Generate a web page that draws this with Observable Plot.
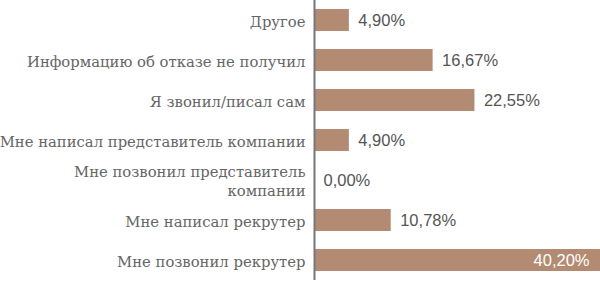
<!DOCTYPE html>
<html>
<head>
<meta charset="utf-8">
<script src="https://cdn.jsdelivr.net/npm/d3@7"></script>
<script src="https://cdn.jsdelivr.net/npm/@observablehq/plot@0.6"></script>
<style>
  html, body { margin: 0; padding: 0; background: #fff; }
  #chart svg { display: block; }
</style>
</head>
<body>
<div id="chart"></div>
<script>
const categories = [
  "Другое",
  "Информацию об отказе не получил",
  "Я звонил/писал сам",
  "Мне написал представитель компании",
  "Мне позвонил представитель компании",
  "Мне написал рекрутер",
  "Мне позвонил рекрутер"
];
const tickLabels = [
  "Другое",
  "Информацию об отказе не получил",
  "Я звонил/писал сам",
  "Мне написал представитель компании",
  "Мне позвонил представитель\nкомпании",
  "Мне написал рекрутер",
  "Мне позвонил рекрутер"
];
const values = [4.90, 16.67, 22.55, 4.90, 0.00, 10.78, 40.20];

const data = categories.map((c, i) => ({category: c, value: values[i], label: tickLabels[i]}));
const fmt = v => v.toFixed(2).replace(".", ",") + "%";
const maxV = d3.max(values);

const chart = Plot.plot({
  width: 600,
  height: 281,
  marginLeft: 314,
  marginRight: 0,
  marginTop: 0,
  marginBottom: 1,
  x: {domain: [0, maxV], axis: null},
  y: {domain: categories, paddingInner: 0.45, paddingOuter: 0.225, label: null},
  marks: [
    Plot.barX(data, {x: "value", y: "category", fill: "#b38a72", insetLeft: 1}),
    Plot.axisY({
      tickSize: 0,
      tickPadding: 9,
      tickFormat: d => tickLabels[categories.indexOf(d)],
      fontFamily: "DejaVu Serif",
      fontSize: 14.8,
      fill: "#666",
      lineHeight: 1.28
    }),
    Plot.text(data.filter(d => d.value < maxV), {
      x: "value", y: "category", text: d => fmt(d.value),
      textAnchor: "start", dx: 9,
      fontFamily: "Liberation Sans", fontSize: 16.5, fill: "#555"
    }),
    Plot.text(data.filter(d => d.value === maxV), {
      x: "value", y: "category", text: d => fmt(d.value),
      textAnchor: "end", dx: -11,
      fontFamily: "Liberation Sans", fontSize: 16.5, fill: "#fff"
    }),
    Plot.ruleX([0], {stroke: "#777", strokeWidth: 2})
  ]
});
document.getElementById("chart").appendChild(chart);
</script>
</body>
</html>
